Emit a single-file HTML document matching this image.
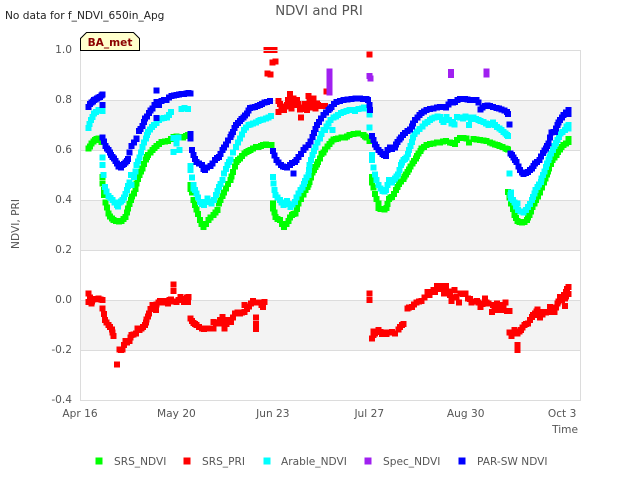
<!DOCTYPE html>
<html>
<head>
<meta charset="utf-8">
<title>NDVI and PRI</title>
<style>
html,body{margin:0;padding:0;background:#fff;}
#chart{display:block;width:640px;height:480px;font-family:"DejaVu Sans",sans-serif;}
#chart text{font-family:"DejaVu Sans",sans-serif;font-size:10.6px;fill:#555;}
</style>
</head>
<body>
<svg id="chart" width="640" height="480" viewBox="0 0 640 480" xmlns="http://www.w3.org/2000/svg">
  <text x="5" y="19" style="fill:#222">No data for f_NDVI_650in_Apg</text>
  <text x="319" y="15" text-anchor="middle" style="font-size:13.3px">NDVI and PRI</text>
  <g id="bands"></g>
  <g id="grid"></g>
  <g id="marks" shape-rendering="crispEdges"></g>
  <rect x="80.5" y="50.5" width="500" height="350" fill="none" stroke="#dcdcdc" stroke-width="1" shape-rendering="crispEdges"></rect>
  <g id="yticks"></g>
  <g id="xticks"></g>
  <text transform="translate(19,224) rotate(-90)" text-anchor="middle">NDVI, PRI</text>
  <text x="578" y="433" text-anchor="end">Time</text>
  <polygon points="80.5,50.5 80.5,38.5 86.5,32.5 133.5,32.5 139.5,38.5 139.5,50.5" fill="#ffffcc" stroke="#000" stroke-width="1"></polygon>
  <text x="110" y="46" text-anchor="middle" style="font-weight:bold;fill:#8b0000">BA_met</text>
  <g id="legend"></g>
</svg>
<script>
var yTickValues = [1.0, 0.8, 0.6, 0.4, 0.2, 0.0, -0.2, -0.4];
var yTickLabels = ["1.0", "0.8", "0.6", "0.4", "0.2", "0.0", "-0.2", "-0.4"];
var bandEdges = [[0.8, 0.6], [0.4, 0.2], [0.0, -0.2]];
var xTickDays = [0, 34, 68, 102, 136, 170];
var xTickLabels = ["Apr 16", "May 20", "Jun 23", "Jul 27", "Aug 30", "Oct 3"];

var srsNdviDays = [3,4,5.3,6.5,7.6,7.9,7.9,9,10,11.2,12.7,14.7,16,17,17.9,19,20,21,22,23.2,24,25.5,27,28.8,31,33,35.3,37.4,39,39,40,41,42.3,43.5,45.3,47,48.4,49,50.2,51.4,53,54,55.2,56.4,58,59.4,61,62.9,64.6,66.4,67.6,68,68,69,70.5,72,73.5,74.7,76,77,78.8,80.2,81,82,83,84,85.2,86.4,88,89.3,91,93.4,95,98,99.9,101,102,103,103,104,105.2,105.2,106.6,108,109,110,111.4,112.5,114,115,116,117.3,118.4,119.4,120.5,122.2,124.6,127,129,130.5,132.2,134,136.3,137.2,138.7,141,143.4,144.6,146.3,148,150,151,151,152,153.2,154.2,155.8,157.6,158.5,159.5,160.8,162.2,163.6,164.6,165.4,166.6,168,169.3,170.4,172.2,
3.5,4.7,5.9,7,8.4,8.4,9.5,10.6,11.9,13.7,15.4,16.5,17.5,18.4,19.5,20.5,21.5,22.6,23.6,24.8,26.2,27.9,29.9,32,34,36.4,38,39.5,40.5,41.6,42.9,44.4,46,47.7,49.6,50.8,52.2,53.5,54.6,55.8,57.2,58.7,60.2,62,63.8,65.5,68.5,69.7,71.2,72.8,74,75.3,76.5,77.9,79.5,80.6,81.5,82.5,83.5,84.6,85.8,87.2,88.6,90.2,92.2,94.2,96.5,100.5,103.5,104.6,105.9,107.3,108.5,109.5,110.7,112,113.2,114.5,115.5,116.6,117.8,118.9,120,121.3,123.4,125.8,128,131.3,133,135.2,139.8,142.2,145.5,147.2,149,150.5,151.5,152.6,153.7,155,156.7,158,159,160.2,161.5,162.9,164.1,165,166,167.3,168.6,169.8,171.3,172.2];
var srsNdviValues = [.607,.627,.64,.647,.633,.493,.467,.39,.347,.327,.317,.317,.333,.367,.40,.427,.467,.50,.527,.563,.58,.60,.616,.633,.637,.653,.653,.656,.46,.445,.40,.363,.32,.293,.32,.34,.36,.387,.417,.447,.48,.513,.553,.567,.587,.597,.607,.613,.62,.62,.62,.387,.367,.333,.32,.293,.317,.34,.347,.387,.423,.453,.473,.51,.533,.553,.584,.603,.624,.643,.647,.651,.66,.667,.66,.651,.637,.493,.47,.424,.387,.369,.364,.369,.404,.413,.44,.464,.484,.503,.523,.547,.567,.587,.607,.62,.627,.631,.637,.631,.624,.649,.647,.631,.644,.64,.637,.631,.623,.616,.607,.603,.433,.387,.34,.317,.31,.32,.34,.373,.40,.43,.47,.503,.527,.56,.58,.603,.62,.633,
.615,.635,.645,.64,.42,.44,.37,.335,.32,.315,.325,.35,.385,.415,.445,.485,.515,.545,.572,.59,.608,.625,.635,.645,.655,.65,.66,.43,.38,.345,.305,.305,.33,.35,.40,.43,.465,.495,.535,.56,.577,.592,.60,.612,.617,.622,.35,.325,.305,.305,.33,.345,.365,.405,.44,.463,.49,.52,.543,.567,.59,.615,.635,.645,.65,.655,.665,.655,.45,.405,.365,.362,.385,.41,.425,.452,.475,.495,.513,.535,.557,.577,.597,.613,.625,.63,.635,.628,.64,.648,.642,.639,.627,.62,.612,.605,.41,.365,.328,.312,.313,.33,.355,.387,.415,.45,.487,.515,.545,.57,.592,.612,.627,.645];

var srsPriDays = [3,3,4,4.7,6.5,8,8,8.8,10,11.2,11.8,13,14,15,16.1,17.4,18.2,19.7,20.2,21.7,23,23.5,24.3,25.5,26.8,27,28.2,30,31,32,33,33,34,35.5,36.7,38.2,38,39,40,41,43,44.7,47,47,48.8,50.2,51,52,53.2,54.7,56.4,58,58,60.3,61,63,64.6,65,62,62,62,65.8,66.5,67,68,68.6,66.2,67.2,67.8,69,70,70,71,72,73,73.4,74,74.6,75.2,76,76.6,77.6,78,78.2,79.3,80,80.5,81,81.7,82.3,83,83.5,84.6,85,86.4,87,102,102,102,103,104,105.2,106.4,108.1,110,111,112.3,114,115.5,117,118.7,120.5,122.5,124,125.2,125.8,127.5,129,128.3,130.5,131,132,133.7,134.2,136,136.9,138,139.9,141.3,142.8,144,145.2,147,147,148.7,150.1,151.5,151.5,152.2,153.2,154.2,154.2,154.2,155.5,156.7,158,159.3,160.4,161.3,162.2,163.4,165.2,165.8,167.3,168.3,169.3,171,171,171.4,172.2,172.2,
3.5,4.2,5.5,7.2,8.4,9.4,10.6,11.5,14.5,15.5,16.6,17.8,18.9,20.9,22.3,23.2,23.9,24.9,26,27.6,29,30.5,31.5,32.6,34.8,36,37.4,37.8,39.5,40.5,41.9,43.8,45.8,47.9,49.4,50.8,51.6,52.6,53.9,55.5,57.2,58.8,59.6,61.8,64,103.5,103.5,104.6,106,107.4,109,112.9,113.5,116,117.8,119.6,121.5,123.2,124.6,126.6,128.2,130,131.8,132.8,135,137.5,139,140.6,141.9,143.4,145.6,146.2,148,149.4,150.6,152.8,153.8,155,156,157.3,158.6,159.8,160.9,161.7,163,164.3,166.5,167.9,168.8,169.9,170.6,171.4,171.8,
70.6,71.6,72.5,73.8,75,77,78.9,80.7,82,82.8,84];
var srsPriValues = [.027,-.007,-.013,.003,.007,0,-.033,-.08,-.10,-.117,-.143,-.257,-.197,-.197,-.164,-.163,-.14,-.133,-.113,-.113,-.10,-.077,-.053,-.02,-.04,-.017,-.003,-.003,-.013,.003,.063,.036,-.007,.013,-.007,.013,-.007,-.073,-.091,-.10,-.113,-.113,-.113,-.087,-.093,-.067,-.113,-.08,-.087,-.053,-.053,-.047,-.02,-.013,-.003,-.009,-.027,-.007,-.069,-.096,-.116,1.0,1.0,1.0,1.0,1.0,.907,.903,.951,.955,.797,.753,.773,.76,.78,.80,.824,.767,.807,.78,.80,.763,.73,.771,.784,.76,.816,.793,.771,.807,.767,.787,.776,.776,.776,.835,.983,.027,0,-.153,-.133,-.12,-.136,-.136,-.127,-.133,-.117,-.096,-.033,-.027,-.009,-.003,.033,.033,.033,.056,.056,.056,.027,.02,-.003,.04,-.009,.027,.027,.007,-.009,-.003,-.027,.007,-.013,-.047,-.013,-.04,-.04,-.009,-.043,-.129,-.143,-.12,-.18,-.20,-.133,-.12,-.10,-.093,-.067,-.053,-.037,-.069,-.047,-.047,-.027,-.047,-.013,.013,-.024,.007,.033,.053,.024,
.01,-.005,.005,.003,-.055,-.09,-.108,-.13,-.2,-.18,-.17,-.15,-.137,-.12,-.107,-.09,-.065,-.035,-.03,-.01,-.01,-.01,0,-.005,0,.005,0,.01,-.083,-.096,-.107,-.115,-.113,-.09,-.08,-.09,-.095,-.083,-.07,-.05,-.05,-.035,-.025,-.01,-.02,-.14,-.125,-.128,-.128,-.13,-.13,-.108,-.10,-.03,-.018,-.006,.01,.02,.04,.045,.05,.035,.01,.015,.025,.005,-.005,-.01,-.015,-.01,-.02,-.035,-.02,-.02,-.043,-.13,-.125,-.125,-.11,-.095,-.08,-.06,-.045,-.06,-.058,-.05,-.04,-.03,-.005,0,.02,.015,.045,
.785,.76,.775,.79,.79,.785,.765,.775,.79,.775,.78];

var arableDays = [3,3.9,5,6.5,7.9,7.9,7.9,8.8,10,11.4,13,13.9,15,16,17,18.2,17.9,19,20,21,22,23.2,24,25.3,27,28.8,30.6,32,33,34.7,33,35,34,35.8,38,39,39,40,40,41,42.3,43.8,45,46.4,48,49,50.2,50.8,52,53,55,56.4,57.8,59.4,61,62.9,64.6,66.4,67.3,68,68.2,69,70.5,71.7,73,74.3,75.8,77,78.4,79.3,80.5,81,82,83,84.6,85.8,86.4,89,87.6,89.3,91,92.9,95,97,99.4,101,102,102,103,103,104,105.2,106.6,107.9,109,110,111,112.2,113.2,114,115.2,116,117,118,119.7,121.7,123.4,125,127,128.1,129.3,131,132,133,135,137.2,137,138.7,140.5,142.2,144,145.7,147,148.7,150,151,151.5,152,152,153.2,154.3,154.5,156.3,158,159.3,160.2,161.3,162.5,163.2,164.3,165.2,166.1,167.3,168.3,169.5,171,172.2,
3.4,4.4,5.7,7.2,8.3,9.4,10.7,12.2,13.4,14.4,15.5,16.5,17.5,19.5,20.5,21.5,22.6,23.6,24.6,26.1,27.9,29.7,31.3,36.9,39.5,40.5,41.6,43,44.4,45.7,47.2,48.5,49.6,51.4,52.5,54,55.7,57.1,58.6,60.2,62,63.7,65.5,68.6,69.7,71.1,72.3,73.6,75,76.4,77.7,78.9,79.9,80.8,81.5,82.5,83.8,85.2,86.9,88.4,90.2,92,94,96,98.2,100.2,103.5,104.6,105.9,107.3,108.4,109.5,110.5,111.6,112.7,113.6,114.6,115.6,116.5,117.5,118.9,120.7,122.5,124.2,126,127.6,130.2,131.5,134,136,137.8,139.6,141.3,143.1,144.9,146.4,147.9,149.3,150.5,151.8,152.6,153.8,155.4,157.2,158.6,159.7,160.7,161.9,162.8,163.7,164.7,165.6,166.7,167.8,168.9,170.2,171.6,172.2];
var arableValues = [.689,.72,.747,.76,.756,.571,.54,.453,.417,.40,.38,.39,.40,.424,.457,.46,.50,.493,.54,.571,.613,.647,.673,.693,.709,.727,.73,.753,.649,.651,.593,.60,.627,.764,.764,.537,.52,.46,.447,.427,.393,.38,.407,.387,.42,.453,.48,.507,.54,.563,.613,.647,.68,.70,.707,.716,.723,.73,.736,.493,.467,.42,.40,.38,.397,.373,.393,.427,.45,.476,.50,.54,.58,.613,.647,.68,.68,.68,.707,.73,.74,.753,.76,.756,.767,.767,.743,.69,.58,.56,.503,.46,.437,.44,.48,.47,.487,.503,.54,.56,.57,.60,.633,.664,.684,.707,.72,.73,.733,.713,.733,.707,.703,.733,.727,.70,.73,.73,.72,.713,.70,.71,.693,.68,.667,.656,.507,.431,.407,.39,.387,.36,.351,.373,.40,.427,.453,.473,.50,.533,.56,.587,.616,.64,.667,.68,.687,
.705,.733,.753,.758,.50,.435,.408,.39,.375,.395,.41,.44,.47,.515,.555,.59,.63,.66,.683,.70,.72,.728,.74,.768,.49,.44,.41,.385,.392,.395,.40,.437,.465,.525,.553,.59,.63,.663,.69,.703,.71,.72,.727,.44,.41,.39,.39,.385,.383,.41,.44,.465,.49,.52,.56,.597,.63,.665,.695,.72,.735,.748,.757,.76,.765,.77,.53,.48,.447,.435,.46,.475,.48,.495,.52,.55,.565,.585,.617,.65,.675,.695,.713,.726,.735,.72,.72,.712,.73,.735,.725,.725,.717,.707,.705,.70,.687,.673,.66,.42,.40,.375,.355,.36,.385,.413,.44,.463,.487,.515,.547,.573,.60,.628,.653,.673,.695,.70];

var specNdviDays = [88,88,88,88,88,88,102,102.5,130.9,130.9,143.3,143.3];
var specNdviValues = [.915,.90,.88,.86,.84,.83,.897,.887,.912,.90,.915,.903];

var parSwDays = [3,4,5,6,7,8,8,8,9,10,11,12,13,14,15,16,17,18.2,20,20.8,22,23,24.3,25.5,27,27,27,28.8,30.5,32.3,34,35.8,37.6,39,39,40,41,43,44,46,47.6,49,50.2,51.4,53,54,55,56.4,57.6,58.8,60,61.7,63.5,65,67,68,69.3,70.8,72.3,74,75.2,75.8,77,78.8,80.5,82,83,84.3,85.8,87.6,88.7,90.5,92.9,95.8,98.7,101,102,103,104,105.2,106.6,107.9,109.3,111,112,113.2,114.6,116.4,117.5,119,120.5,122.2,124.6,127,129,130.7,132.2,134,135.7,137.5,139.8,141.3,142.8,144.6,146.9,148.7,150.5,151,151.5,151.8,152.9,154,155.2,156.4,158,159.3,160.5,162,163.2,164.3,165.2,166.3,167.5,168.3,169.3,170.4,172.2,
3.5,4.5,5.5,6.5,7.5,8.5,9.5,10.5,11.5,12.5,13.5,14.5,15.5,16.5,17.5,19,20,21.4,22.5,23.6,24.9,26.2,27.9,29.6,31.4,33.1,34.9,36.7,38.3,39,39.5,40.5,42,43.5,44.8,46.8,48.3,49.6,50.8,52.2,53.5,54.5,55.7,57,58.2,59.4,60.8,62.6,64.2,66,68.6,70,71.5,73,74.8,76.4,77.9,79.6,81.2,82.5,83.6,85,86.7,88.2,89.6,91.7,94.3,97.2,99.8,101.5,102.3,103.5,104.6,105.9,107.2,108.5,110,111.5,112.6,113.9,115.5,117,118.2,119.7,121.3,123.4,125.8,128,129.9,131.5,133.1,134.9,136.6,138.6,140.5,142,143.7,145.7,147.8,149.6,152.3,153.4,154.6,155.8,157.2,158.6,159.9,161.2,162.6,163.7,164.7,165.8,166.9,167.9,168.8,169.9,171.3,172.2];
var parSwValues = [.773,.79,.80,.807,.813,.823,.78,.651,.616,.60,.58,.567,.547,.54,.54,.55,.565,.616,.647,.676,.696,.727,.749,.767,.793,.839,.729,.797,.80,.817,.82,.824,.827,.827,.647,.58,.553,.54,.52,.536,.56,.573,.60,.623,.653,.673,.70,.717,.73,.747,.769,.773,.78,.79,.796,.597,.56,.54,.533,.54,.507,.553,.573,.60,.62,.653,.684,.713,.74,.76,.773,.793,.80,.804,.807,.804,.78,.656,.623,.60,.584,.576,.611,.611,.633,.651,.669,.683,.707,.731,.749,.76,.767,.773,.771,.793,.793,.804,.804,.80,.80,.763,.776,.777,.769,.763,.753,.744,.703,.587,.571,.553,.52,.504,.513,.527,.547,.56,.589,.607,.627,.671,.673,.70,.72,.74,.76,
.785,.795,.803,.81,.818,.635,.607,.59,.573,.557,.535,.53,.545,.557,.59,.63,.645,.685,.712,.735,.758,.78,.78,.80,.81,.818,.822,.825,.828,.665,.60,.565,.547,.525,.53,.547,.568,.585,.61,.638,.663,.688,.708,.725,.738,.758,.77,.776,.785,.792,.578,.55,.535,.53,.548,.56,.585,.61,.635,.668,.70,.727,.75,.767,.785,.797,.802,.806,.805,.80,.76,.64,.612,.592,.58,.60,.605,.622,.642,.66,.677,.695,.72,.74,.755,.764,.77,.772,.782,.79,.80,.805,.802,.80,.79,.77,.778,.773,.766,.758,.58,.56,.535,.51,.508,.52,.537,.553,.575,.598,.617,.65,.672,.687,.71,.73,.75,.745];

var seriesNames = ["SRS_NDVI", "SRS_PRI", "Arable_NDVI", "Spec_NDVI", "PAR-SW NDVI"];
var seriesColors = ["#00ff00", "#ff0000", "#00ffff", "#a020f0", "#0000ff"];
var seriesDays = [srsNdviDays, srsPriDays, arableDays, specNdviDays, parSwDays];
var seriesValues = [srsNdviValues, srsPriValues, arableValues, specNdviValues, parSwValues];
var legendSwatchX = [99, 187, 267, 368, 462];
var legendLabelX = [114, 202, 281, 383, 477];

var NS = "http://www.w3.org/2000/svg";
var PLOT_LEFT = 80, PLOT_RIGHT = 580, PLOT_TOP = 50, PLOT_BOTTOM = 400;
var PX_PER_DAY = 2.836;
var MARK = 6;

function xScale(d) { return PLOT_LEFT + d * PX_PER_DAY; }
function yScale(v) { return PLOT_BOTTOM - (v + 0.4) * (PLOT_BOTTOM - PLOT_TOP) / 1.4; }

function make(tag, attrs, parent) {
  var el = document.createElementNS(NS, tag);
  for (var k in attrs) { el.setAttribute(k, attrs[k]); }
  parent.appendChild(el);
  return el;
}

var bandsG = document.getElementById("bands");
bandEdges.forEach(function (b) {
  var r = make("rect", { x: PLOT_LEFT, y: yScale(b[0]), width: PLOT_RIGHT - PLOT_LEFT, height: yScale(b[1]) - yScale(b[0]), fill: "#f3f3f3" }, bandsG);
  
  
});

var gridG = document.getElementById("grid");
var yG = document.getElementById("yticks");
yTickValues.forEach(function (v, i) {
  var y = yScale(v);
  var l = make("line", { x1: PLOT_LEFT, x2: PLOT_RIGHT, y1: y + 0.5, y2: y + 0.5, stroke: "#dcdcdc", "stroke-width": 1, "shape-rendering": "crispEdges" }, gridG);
  
  
  var t = make("text", { x: 72, y: y + 3, "text-anchor": "end" }, yG);
  t.textContent = yTickLabels[i];
  
  
});

var xG = document.getElementById("xticks");
xTickDays.forEach(function (d, i) {
  var t = make("text", { x: xScale(d), y: 417, "text-anchor": "middle" }, xG);
  t.textContent = xTickLabels[i];
  
  
});

var marksG = document.getElementById("marks");
seriesNames.forEach(function (name, s) {
  var g = make("g", { fill: seriesColors[s] }, marksG);
  
  
  seriesDays[s].forEach(function (d, i) {
    var r = make("rect", { x: xScale(d) - MARK / 2, y: yScale(seriesValues[s][i]) - MARK / 2, width: MARK, height: MARK }, g);
    
    
  });
});

var legendG = document.getElementById("legend");
seriesNames.forEach(function (name, s) {
  var r = make("rect", { x: legendSwatchX[s] - 3.5, y: 457.5, width: 7, height: 7, fill: seriesColors[s], "shape-rendering": "crispEdges" }, legendG);
  
  
  var t = make("text", { x: legendLabelX[s], y: 465 }, legendG);
  t.textContent = name;
  
  
});
</script>
</body>
</html>
